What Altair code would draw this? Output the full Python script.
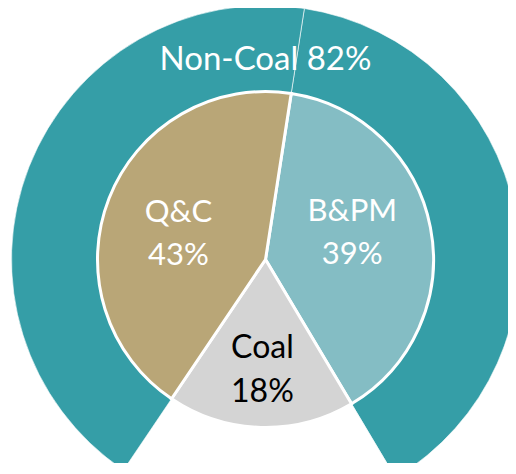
import math
import altair as alt
import pandas as pd

# ---- data ----
categories = ["B&PM", "Coal", "Q&C"]
shares = [39, 18, 43]
order = [1, 2, 3]
slice_colors = ["#84BDC4", "#D4D4D4", "#B9A677"]
ring_color = "#359EA7"

df = pd.DataFrame({"cat": categories, "share": shares, "ord": order})
df["label"] = df["cat"] + "\n" + df["share"].astype(str) + "%"
noncoal = int(df.loc[df["cat"] != "Coal", "share"].sum())
ring_df = pd.DataFrame({"label": [f"Non-Coal {noncoal}%"]})

# ---- layout ----
start = 0.1536
theta_scale = alt.Scale(range=[start, start + 2 * math.pi])
CX, CY = 257.5, 251.5
R_PIE, R_RING = 168, 254
FONT = "Lato"

base = alt.Chart(df).encode(
    theta=alt.Theta("share:Q", stack=True, scale=theta_scale),
    order=alt.Order("ord:Q"),
    x=alt.value(CX),
    y=alt.value(CY),
)

ring = base.mark_arc(
    radius=R_RING, radius2=R_PIE, stroke="white", strokeWidth=1, strokeOpacity=0.6
).encode(
    color=alt.condition("datum.cat == 'Coal'", alt.value("transparent"), alt.value(ring_color))
)

pie = base.mark_arc(radius=R_PIE, stroke="white", strokeWidth=3).encode(
    color=alt.Color("cat:N", scale=alt.Scale(domain=categories, range=slice_colors), legend=None)
)

white_lab = base.mark_text(
    radius=90.5, thetaOffset=-0.096, fontSize=31, font=FONT, color="white",
    lineBreak="\n", lineHeight=43, baseline="middle", align="center", dy=-21.5,
).encode(
    text="label:N",
    opacity=alt.condition("datum.cat == 'Coal'", alt.value(0), alt.value(1)),
)

coal_lab = base.mark_text(
    radius=110.5, fontSize=32, font=FONT, color="black",
    lineBreak="\n", lineHeight=44, baseline="middle", align="center", dy=-22,
).encode(
    text="label:N",
    opacity=alt.condition("datum.cat == 'Coal'", alt.value(1), alt.value(0)),
)

ring_text = alt.Chart(ring_df).mark_text(
    radius=200, fontSize=33, font=FONT, color="white", baseline="middle", align="center"
).encode(
    text="label:N",
    theta=alt.value(0),
    x=alt.value(CX),
    y=alt.value(CY),
)

chart = alt.layer(ring, pie, white_lab, coal_lab, ring_text).properties(
    width=500, height=455, autosize="none", padding=0
).configure_view(stroke=None)

chart.save("out.html", embed_options={"renderer": "svg", "actions": False})
